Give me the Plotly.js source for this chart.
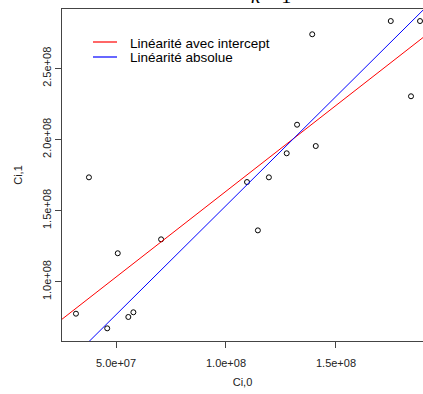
<!DOCTYPE html>
<html>
<head>
<meta charset="utf-8">
<script src="https://cdn.plot.ly/plotly-3.0.1.min.js"></script>
<style>
html,body{margin:0;padding:0;background:#fff;}
#chart{width:423px;height:394px;}
</style>
</head>
<body>
<div id="chart"></div>
<script>
// Observed points (Ci,0 , Ci,1)
const ci0 = [3.18e7, 3.77e7, 4.60e7, 5.08e7, 5.56e7, 5.79e7, 7.05e7, 1.0955e8, 1.145e8,
             1.195e8, 1.276e8, 1.323e8, 1.392e8, 1.408e8, 1.749e8, 1.841e8, 1.882e8];
const ci1 = [7.75e7, 1.734e8, 6.72e7, 1.20e8, 7.52e7, 7.85e7, 1.298e8, 1.701e8, 1.361e8,
             1.734e8, 1.903e8, 2.104e8, 2.740e8, 1.954e8, 2.833e8, 2.304e8, 2.833e8];

// Fitted models
const interceptModel = {a: 4.29e7, b: 1.207};   // Linéarité avec intercept
const absoluteModel  = {b: 1.535};              // Linéarité absolue (through origin)
const seriesNames = ['Linéarité avec intercept', 'Linéarité absolue'];
const seriesColors = ['#ff0000', '#0000ff'];

const xTicks = [5e7, 1e8, 1.5e8];
const xTickText = ['5.0e+07', '1.0e+08', '1.5e+08'];
const yTicks = [1e8, 1.5e8, 2e8, 2.5e8];
const yTickText = ['1.0e+08', '1.5e+08', '2.0e+08', '2.5e+08'];

const xRange = [2.5455e7, 1.8955e8];
const yRange = [5.83e7, 2.9177e8];

const lineX = [0, 2.5e8];
const redY = lineX.map(x => interceptModel.a + interceptModel.b * x);
const blueY = lineX.map(x => absoluteModel.b * x);

const font = 'Liberation Sans, Arial, sans-serif';

const traces = [
  {x: ci0, y: ci1, type: 'scatter', mode: 'markers', showlegend: false,
   marker: {symbol: 'circle-open', size: 5, color: '#000', line: {width: 1, color: '#000'}}},
  {x: lineX, y: redY, type: 'scatter', mode: 'lines', name: seriesNames[0], showlegend: false,
   line: {color: seriesColors[0], width: 1}},
  {x: lineX, y: blueY, type: 'scatter', mode: 'lines', name: seriesNames[1], showlegend: false,
   line: {color: seriesColors[1], width: 1}}
];

// plot area geometry (px) for the hand-placed legend
const L = 62, T = 9, W = 361, H = 332;
const px = p => (p - L) / W;
const py = p => (T + H - p) / H;

const legendRows = [42, 57];
const shapes = legendRows.map((r, i) => ({
  type: 'line', xref: 'paper', yref: 'paper', layer: 'above',
  x0: px(93), x1: px(117), y0: py(r), y1: py(r),
  line: {color: seriesColors[i], width: 1.2}
}));
const legendText = legendRows.map((r, i) => ({
  text: seriesNames[i], xref: 'paper', yref: 'paper', x: px(128), y: py(r + 1),
  xanchor: 'left', yanchor: 'middle', showarrow: false,
  font: {family: font, size: 13.5, color: '#000'}
}));

const layout = {
  width: 423, height: 394,
  margin: {l: L, r: 0, t: T, b: 394 - T - H, pad: 0},
  paper_bgcolor: '#fff', plot_bgcolor: '#fff',
  font: {family: font, size: 11, color: '#000'},
  showlegend: false,
  xaxis: {range: xRange, tickvals: xTicks, ticktext: xTickText,
          showgrid: false, zeroline: false, showline: true, mirror: true,
          linecolor: '#444', linewidth: 1, ticks: 'outside', ticklen: 6,
          tickcolor: '#444', tickfont: {family: font, size: 11, color: '#222'},
          ticklabelstandoff: 6,
          title: {text: 'Ci,0', font: {family: font, size: 11, color: '#222'}, standoff: 10}},
  yaxis: {range: yRange, tickvals: yTicks, ticktext: yTickText, tickangle: -90,
          showgrid: false, zeroline: false, showline: true, mirror: true,
          linecolor: '#444', linewidth: 1, ticks: 'outside', ticklen: 6,
          tickcolor: '#444', tickfont: {family: font, size: 11, color: '#222'},
          title: {text: 'Ci,1', font: {family: font, size: 11, color: '#222'}, standoff: 15}},
  shapes: shapes,
  annotations: legendText.concat([
    {text: '<i>k</i> = 1', xref: 'paper', yref: 'paper', x: px(271), y: 1.0,
     xanchor: 'center', yanchor: 'bottom', showarrow: false,
     font: {family: 'Liberation Serif, Times New Roman, serif', size: 20, color: '#000'}}
  ])
};

Plotly.newPlot('chart', traces, layout, {displayModeBar: false, staticPlot: true});
</script>
</body>
</html>
